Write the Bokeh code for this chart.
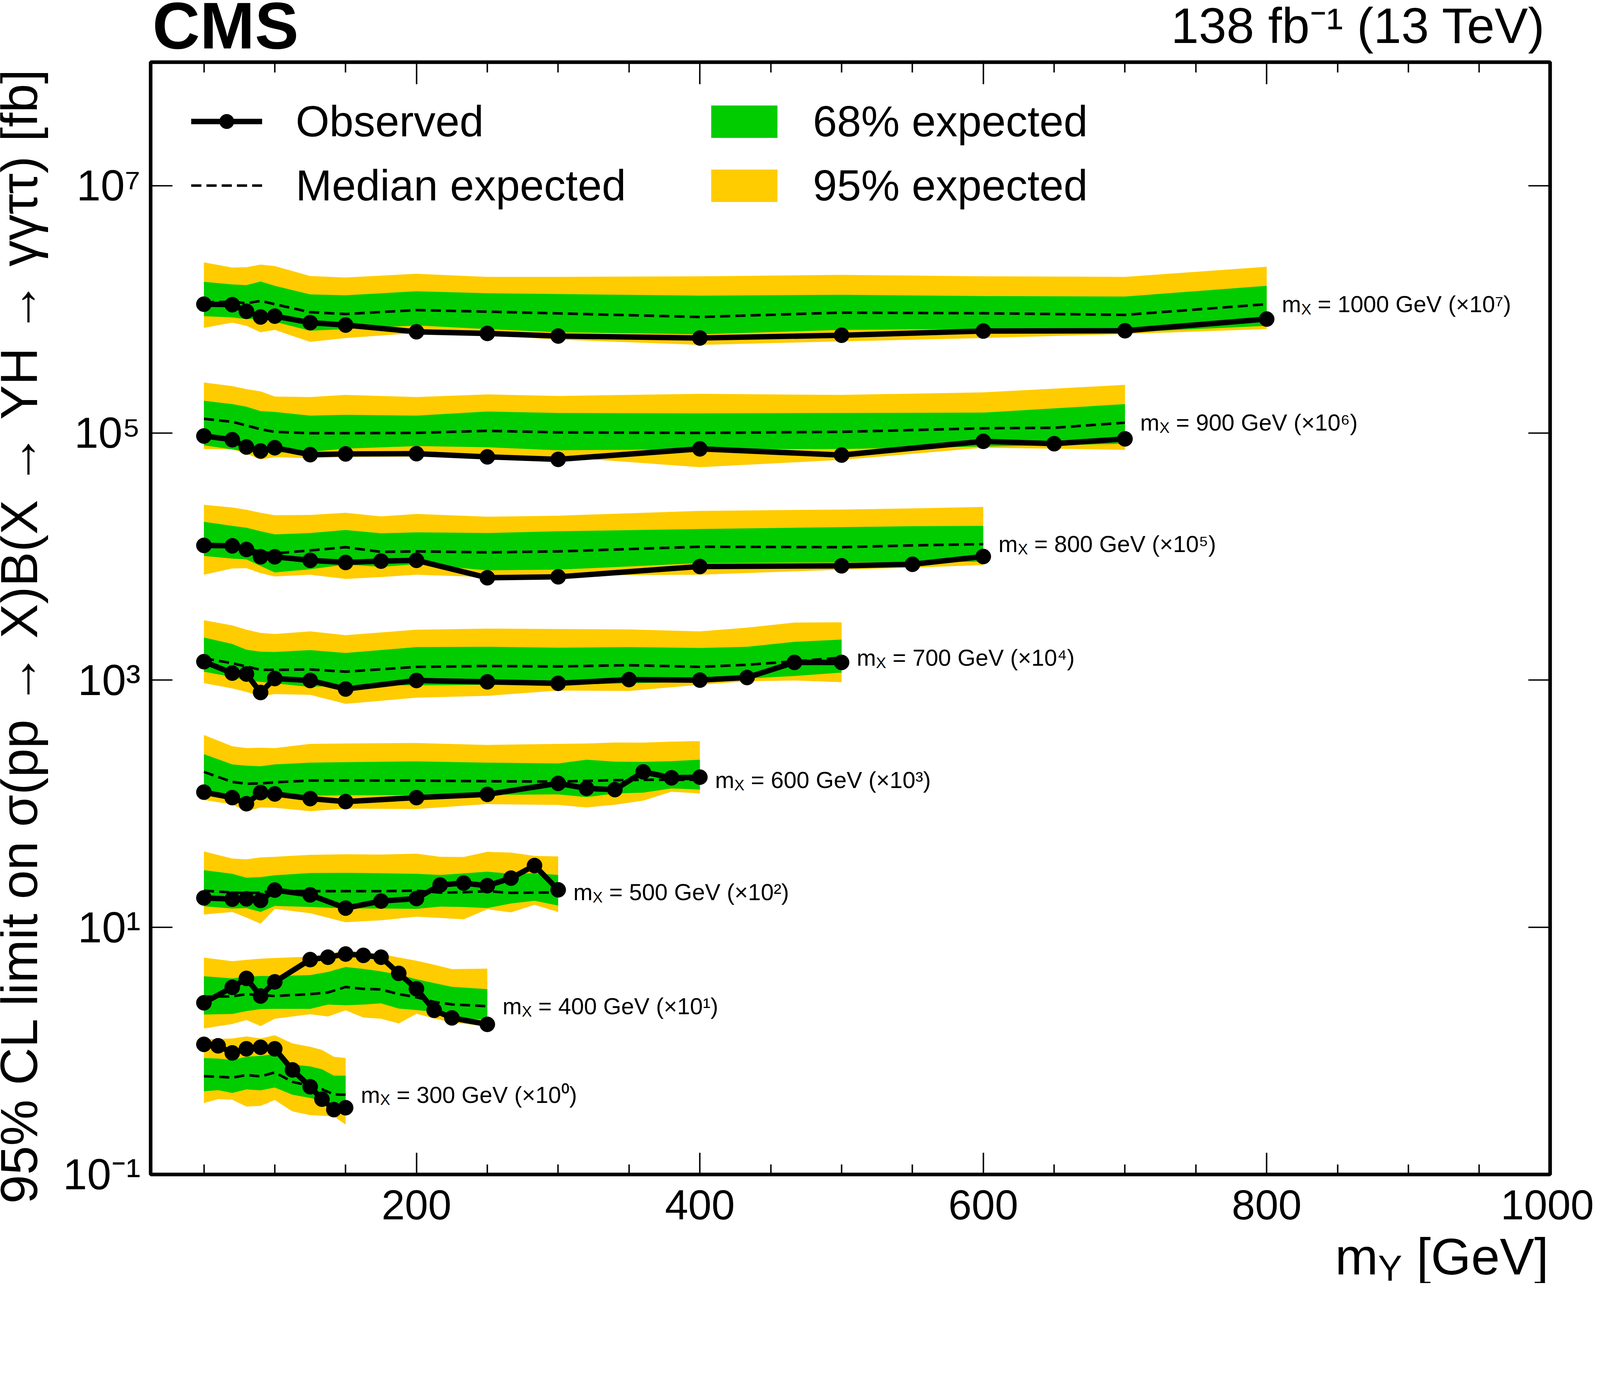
import numpy as np
from bokeh.plotting import figure
from bokeh.models import (BoxAnnotation, ColumnDataSource, FixedTicker, Label,
                          Legend, LegendItem, LinearAxis, LogAxis, Range1d)
from bokeh.core.properties import value
from bokeh.embed import file_html
from bokeh.resources import INLINE

# 95% CL limits in fb (before the x10^k display scaling)
mx_list = [300, 400, 500, 600, 700, 800, 900, 1000]
scale_exp = [0, 1, 2, 3, 4, 5, 6, 7]

my_300 = [50, 60, 70, 80, 90, 100, 112.5, 125, 133.3, 141.7, 150]
obs_300 = [1.13, 1.10, 0.964, 1.04, 1.07, 1.04, 0.702, 0.513, 0.407, 0.335, 0.347]
exp_300 = [0.625, 0.619, 0.608, 0.638, 0.622, 0.670, 0.562, 0.521, 0.490, 0.445, 0.442]
lo68_300 = [0.471, 0.482, 0.457, 0.489, 0.480, 0.506, 0.442, 0.416, 0.396, 0.373, 0.364]
hi68_300 = [0.877, 0.867, 0.845, 0.897, 0.912, 0.942, 0.776, 0.750, 0.711, 0.631, 0.632]
lo95_300 = [0.379, 0.407, 0.403, 0.355, 0.359, 0.401, 0.324, 0.302, 0.299, 0.295, 0.254]
hi95_300 = [1.24, 1.25, 1.26, 1.31, 1.26, 1.34, 1.15, 1.08, 1.02, 0.897, 0.877]

my_400 = [50, 70, 80, 90, 100, 125, 137.5, 150, 162.5, 175, 187.5, 200, 212.5, 225, 250]
obs_400 = [0.245, 0.327, 0.386, 0.278, 0.362, 0.548, 0.573, 0.608, 0.593, 0.573, 0.424, 0.318, 0.213, 0.185, 0.164]
exp_400 = [0.275, 0.276, 0.288, 0.283, 0.278, 0.288, 0.297, 0.329, 0.318, 0.314, 0.288, 0.272, 0.249, 0.238, 0.230]
lo68_400 = [0.197, 0.199, 0.210, 0.218, 0.219, 0.219, 0.237, 0.234, 0.237, 0.243, 0.220, 0.214, 0.207, 0.187, 0.178]
hi68_400 = [0.402, 0.386, 0.398, 0.404, 0.403, 0.411, 0.435, 0.478, 0.461, 0.440, 0.414, 0.380, 0.354, 0.330, 0.316]
lo95_400 = [0.152, 0.165, 0.178, 0.159, 0.182, 0.198, 0.190, 0.213, 0.186, 0.182, 0.167, 0.200, 0.183, 0.170, 0.158]
hi95_400 = [0.569, 0.532, 0.546, 0.558, 0.565, 0.579, 0.610, 0.646, 0.631, 0.608, 0.570, 0.537, 0.498, 0.459, 0.463]

my_500 = [50, 70, 80, 90, 100, 125, 150, 175, 200, 216.7, 233.3, 250, 266.7, 283.3, 300]
obs_500 = [0.173, 0.169, 0.170, 0.165, 0.200, 0.183, 0.143, 0.163, 0.171, 0.220, 0.228, 0.217, 0.250, 0.316, 0.201]
exp_500 = [0.198, 0.191, 0.189, 0.191, 0.198, 0.196, 0.196, 0.196, 0.198, 0.191, 0.192, 0.196, 0.190, 0.191, 0.192]
lo68_500 = [0.148, 0.142, 0.143, 0.133, 0.149, 0.146, 0.142, 0.142, 0.141, 0.147, 0.146, 0.143, 0.156, 0.164, 0.150]
hi68_500 = [0.290, 0.271, 0.252, 0.255, 0.264, 0.275, 0.276, 0.274, 0.271, 0.265, 0.273, 0.282, 0.271, 0.274, 0.265]
lo95_500 = [0.127, 0.133, 0.120, 0.107, 0.141, 0.130, 0.110, 0.114, 0.122, 0.119, 0.116, 0.140, 0.132, 0.152, 0.133]
hi95_500 = [0.411, 0.360, 0.355, 0.368, 0.372, 0.386, 0.390, 0.388, 0.394, 0.372, 0.371, 0.408, 0.402, 0.378, 0.375]

my_600 = [50, 70, 80, 90, 100, 125, 150, 200, 250, 300, 320, 340, 360, 380, 400]
obs_600 = [0.124, 0.112, 0.100, 0.123, 0.120, 0.110, 0.104, 0.112, 0.119, 0.146, 0.133, 0.130, 0.181, 0.162, 0.164]
exp_600 = [0.181, 0.150, 0.145, 0.146, 0.149, 0.154, 0.154, 0.154, 0.152, 0.151, 0.153, 0.155, 0.156, 0.156, 0.156]
lo68_600 = [0.117, 0.107, 0.107, 0.108, 0.113, 0.116, 0.117, 0.117, 0.118, 0.119, 0.113, 0.121, 0.123, 0.133, 0.130]
hi68_600 = [0.252, 0.208, 0.203, 0.201, 0.208, 0.215, 0.217, 0.220, 0.215, 0.212, 0.227, 0.219, 0.218, 0.221, 0.227]
lo95_600 = [0.107, 0.0989, 0.0865, 0.0933, 0.0927, 0.0871, 0.0912, 0.0906, 0.0993, 0.0977, 0.0933, 0.0982, 0.106, 0.125, 0.121]
hi95_600 = [0.360, 0.292, 0.282, 0.284, 0.282, 0.305, 0.307, 0.310, 0.299, 0.305, 0.307, 0.313, 0.312, 0.318, 0.321]

my_700 = [50, 70, 80, 90, 100, 125, 150, 200, 250, 300, 350, 400, 433.3, 466.7, 500]
obs_700 = [0.141, 0.114, 0.112, 0.0794, 0.103, 0.0993, 0.0847, 0.0993, 0.0968, 0.0942, 0.101, 0.100, 0.105, 0.139, 0.139]
exp_700 = [0.150, 0.137, 0.129, 0.121, 0.121, 0.122, 0.117, 0.128, 0.130, 0.129, 0.132, 0.128, 0.133, 0.142, 0.152]
lo68_700 = [0.117, 0.106, 0.0993, 0.0968, 0.0942, 0.0881, 0.0912, 0.0906, 0.0916, 0.0916, 0.0942, 0.0968, 0.103, 0.108, 0.115]
hi68_700 = [0.221, 0.196, 0.176, 0.170, 0.169, 0.175, 0.166, 0.185, 0.186, 0.183, 0.185, 0.182, 0.186, 0.204, 0.213]
lo95_700 = [0.0946, 0.0857, 0.0802, 0.0741, 0.0771, 0.0760, 0.0643, 0.0721, 0.0746, 0.0824, 0.0818, 0.0916, 0.0979, 0.0993, 0.0962]
hi95_700 = [0.305, 0.277, 0.256, 0.241, 0.236, 0.248, 0.231, 0.256, 0.261, 0.259, 0.257, 0.248, 0.266, 0.292, 0.294]

my_800 = [50, 70, 80, 90, 100, 125, 150, 175, 200, 250, 300, 400, 500, 550, 600]
obs_800 = [0.123, 0.122, 0.114, 0.0995, 0.0995, 0.0931, 0.0895, 0.0918, 0.0931, 0.0673, 0.0685, 0.0830, 0.0841, 0.0865, 0.100]
exp_800 = [0.126, 0.125, 0.117, 0.109, 0.106, 0.112, 0.119, 0.109, 0.110, 0.108, 0.110, 0.120, 0.119, 0.123, 0.126]
lo68_800 = [0.101, 0.0962, 0.0948, 0.0838, 0.0743, 0.0789, 0.0861, 0.0826, 0.0865, 0.0773, 0.0783, 0.0883, 0.0895, 0.0902, 0.0908]
hi68_800 = [0.191, 0.177, 0.171, 0.160, 0.151, 0.155, 0.164, 0.154, 0.157, 0.155, 0.160, 0.167, 0.173, 0.176, 0.177]
lo95_800 = [0.0713, 0.0800, 0.0805, 0.0733, 0.0689, 0.0713, 0.0659, 0.0682, 0.0713, 0.0681, 0.0700, 0.0713, 0.0783, 0.0813, 0.0853]
hi95_800 = [0.262, 0.249, 0.239, 0.226, 0.216, 0.217, 0.226, 0.211, 0.221, 0.210, 0.214, 0.234, 0.240, 0.245, 0.252]

my_900 = [50, 70, 80, 90, 100, 125, 150, 200, 250, 300, 400, 500, 600, 650, 700]
obs_900 = [0.0944, 0.0881, 0.0769, 0.0714, 0.0759, 0.0667, 0.0676, 0.0679, 0.0640, 0.0611, 0.0743, 0.0662, 0.0855, 0.0818, 0.0895]
exp_900 = [0.130, 0.123, 0.115, 0.107, 0.102, 0.0995, 0.0995, 0.100, 0.104, 0.101, 0.100, 0.102, 0.109, 0.110, 0.121]
lo68_900 = [0.0794, 0.0736, 0.0708, 0.0684, 0.0692, 0.0703, 0.0746, 0.0782, 0.0766, 0.0724, 0.0736, 0.0741, 0.0776, 0.0794, 0.0818]
hi68_900 = [0.182, 0.171, 0.163, 0.150, 0.148, 0.138, 0.140, 0.138, 0.149, 0.145, 0.144, 0.145, 0.146, 0.158, 0.171]
lo95_900 = [0.0741, 0.0736, 0.0679, 0.0610, 0.0637, 0.0624, 0.0640, 0.0643, 0.0640, 0.0640, 0.0528, 0.0605, 0.0759, 0.0745, 0.0729]
hi95_900 = [0.256, 0.239, 0.226, 0.217, 0.197, 0.195, 0.203, 0.195, 0.205, 0.199, 0.207, 0.203, 0.213, 0.228, 0.245]

my_1000 = [50, 70, 80, 90, 100, 125, 150, 200, 250, 300, 400, 500, 600, 700, 800]
obs_1000 = [0.110, 0.109, 0.0964, 0.0867, 0.0881, 0.0780, 0.0746, 0.0658, 0.0638, 0.0608, 0.0586, 0.0617, 0.0667, 0.0671, 0.0834]
exp_1000 = [0.114, 0.115, 0.112, 0.117, 0.110, 0.0948, 0.0916, 0.0986, 0.0957, 0.0927, 0.0867, 0.0940, 0.0929, 0.0902, 0.110]
lo68_1000 = [0.0881, 0.0859, 0.0834, 0.0841, 0.0793, 0.0671, 0.0692, 0.0740, 0.0692, 0.0652, 0.0628, 0.0682, 0.0692, 0.0652, 0.0735]
hi68_1000 = [0.167, 0.159, 0.157, 0.168, 0.155, 0.132, 0.130, 0.140, 0.135, 0.133, 0.129, 0.131, 0.128, 0.127, 0.155]
lo95_1000 = [0.0708, 0.0780, 0.0735, 0.0652, 0.0682, 0.0545, 0.0586, 0.0643, 0.0617, 0.0569, 0.0516, 0.0550, 0.0586, 0.0631, 0.0692]
hi95_1000 = [0.240, 0.218, 0.219, 0.230, 0.224, 0.186, 0.181, 0.194, 0.183, 0.183, 0.185, 0.190, 0.185, 0.183, 0.221]

x_major = [200, 400, 600, 800, 1000]
x_minor = [50, 100, 150, 250, 300, 350, 450, 500, 550, 650, 700, 750, 850, 900, 950]
y_major = [1e-1, 1e1, 1e3, 1e5, 1e7]
y_labels = ["10⁻¹", "10¹", "10³", "10⁵", "10⁷"]

curves = {
    300: (my_300, obs_300, exp_300, lo68_300, hi68_300, lo95_300, hi95_300),
    400: (my_400, obs_400, exp_400, lo68_400, hi68_400, lo95_400, hi95_400),
    500: (my_500, obs_500, exp_500, lo68_500, hi68_500, lo95_500, hi95_500),
    600: (my_600, obs_600, exp_600, lo68_600, hi68_600, lo95_600, hi95_600),
    700: (my_700, obs_700, exp_700, lo68_700, hi68_700, lo95_700, hi95_700),
    800: (my_800, obs_800, exp_800, lo68_800, hi68_800, lo95_800, hi95_800),
    900: (my_900, obs_900, exp_900, lo68_900, hi68_900, lo95_900, hi95_900),
    1000: (my_1000, obs_1000, exp_1000, lo68_1000, hi68_1000, lo95_1000, hi95_1000),
}

FONT = "Liberation Sans"
GREEN = "#00cc00"
YELLOW = "#ffcc00"
SUP = str.maketrans("0123456789", "⁰¹²³⁴⁵⁶⁷⁸⁹")

# the page is laid out in CSS px on a 4096 px wide viewport that gets
# photographed at 4428 px, so every size measured on the reference is scaled by S
S = 4096 / 4428
W, H = 4080, 3284


def fs(v):
    return f"{v * S:.1f}px"


# Helvetica advance widths (em), to butt the sub-script pieces together
ADV = {"m": 0.833, "X": 0.667, "Y": 0.667, " ": 0.278, "[": 0.278, "]": 0.278,
       "G": 0.778, "e": 0.556, "V": 0.667}


def tw(s, size):
    return sum(ADV[c] for c in s) * size


# axis limits, and where the axis box sits on the reference (px)
X0, X1 = 12.4, 1000
Y0, Y1 = 1e-1, 1e8
BOX_L, BOX_R, BOX_T, BOX_B = 425, 4298, 180, 3258


def xpx(px):
    return X0 + (px - BOX_L) * (X1 - X0) / (BOX_R - BOX_L)


def ypx(py):
    lo, hi = np.log10(Y0), np.log10(Y1)
    return 10 ** (hi - (py - BOX_T) * (hi - lo) / (BOX_B - BOX_T))


# the frame covers the whole canvas; the axes sit at fixed locations on the box
p = figure(width=W, height=H,
           x_range=Range1d(xpx(8 / S), xpx((8 + W) / S)),
           y_range=Range1d(ypx((8 + H) / S), ypx(8 / S)), y_axis_type="log",
           output_backend="svg", toolbar_location=None,
           min_border_left=0, min_border_right=0, min_border_top=0, min_border_bottom=0)
p.grid.visible = False
p.outline_line_color = None

xt = FixedTicker(ticks=x_major, minor_ticks=x_minor)
yt = FixedTicker(ticks=y_major, minor_ticks=[])
bottom_ax = p.xaxis[0]
left_ax = p.yaxis[0]
bottom_ax.ticker = xt
left_ax.ticker = yt
bottom_ax.fixed_location = Y0
left_ax.fixed_location = X0
left_ax.major_label_overrides = dict(zip(y_major, y_labels))

top_ax = LinearAxis(ticker=xt, fixed_location=Y1,
                    major_label_overrides={v: "" for v in x_major})
right_ax = LogAxis(ticker=yt, fixed_location=X1,
                   major_label_overrides={v: "" for v in y_major})
p.add_layout(top_ax, "above")
p.add_layout(right_ax, "right")

for ax in [bottom_ax, left_ax, top_ax, right_ax]:
    ax.axis_line_color = None
    ax.major_tick_in = round(60 * S)
    ax.major_tick_out = 0
    ax.minor_tick_in = round(28 * S)
    ax.minor_tick_out = 0
    ax.major_tick_line_width = 4 * S
    ax.minor_tick_line_width = 4 * S
    ax.major_tick_line_color = "black"
    ax.minor_tick_line_color = "black"
    ax.major_label_text_font = FONT
    ax.major_label_text_font_size = fs(120)
    ax.major_label_text_color = "black"
top_ax.major_label_text_color = None
right_ax.major_label_text_color = None
bottom_ax.major_label_text_font_size = fs(116)
bottom_ax.major_label_standoff = round(44 * S)
left_ax.major_label_standoff = round(28 * S)

p.add_layout(BoxAnnotation(left=X0, right=X1, bottom=Y0, top=Y1,
                           fill_color=None, fill_alpha=0,
                           line_color="black", line_alpha=1, line_width=10 * S))

obs_r, dot_r, exp_r, g_r, y_r = {}, {}, {}, {}, {}
srcs = {}
for mx, k in zip(mx_list, scale_exp):
    my, obs, med, lo1, hi1, lo2, hi2 = curves[mx]
    f = 10.0 ** k
    srcs[mx] = ColumnDataSource(dict(
        my=my, obs=np.array(obs) * f, med=np.array(med) * f,
        lo1=np.array(lo1) * f, hi1=np.array(hi1) * f,
        lo2=np.array(lo2) * f, hi2=np.array(hi2) * f))
    y_r[mx] = p.varea(x="my", y1="lo2", y2="hi2", source=srcs[mx], fill_color=YELLOW)
    g_r[mx] = p.varea(x="my", y1="lo1", y2="hi1", source=srcs[mx], fill_color=GREEN)

for mx in mx_list:
    exp_r[mx] = p.line("my", "med", source=srcs[mx], line_color="black",
                       line_width=7 * S, line_dash="26 13")
    obs_r[mx] = p.line("my", "obs", source=srcs[mx], line_color="black",
                       line_width=15 * S)
    dot_r[mx] = p.scatter("my", "obs", source=srcs[mx], size=42 * S, color="black")

# m_X labels next to the last point of each curve
LS, LSUB = 64, 42
lab = ColumnDataSource(dict(
    x=[curves[m][0][-1] for m in mx_list],
    y=[curves[m][2][-1] * 10.0 ** k for m, k in zip(mx_list, scale_exp)],
    rest=[f"= {m} GeV (×10{str(k).translate(SUP)})" for m, k in zip(mx_list, scale_exp)],
))
lab_kw = dict(x="x", y="y", source=lab, text_font=value(FONT),
              text_baseline="middle", text_align="left", text_color="black")
p.text(text=value("m"), x_offset=42 * S, text_font_size=value(fs(LS)), **lab_kw)
p.text(text=value("X"), x_offset=(42 + tw("m", LS)) * S, y_offset=14 * S,
       text_font_size=value(fs(LSUB)), **lab_kw)
p.text(text="rest", x_offset=(42 + tw("m", LS) + tw("X", LSUB) + tw(" ", LS)) * S,
       text_font_size=value(fs(LS)), **lab_kw)

# legend in two columns; location is measured from the canvas bottom-left.
# Area swatches are inset by 10% of the glyph box, hence the larger box on the right.
leg_kw = dict(label_height=round(150 * S), spacing=round(27 * S), padding=0, margin=0,
              border_line_color=None, background_fill_alpha=0,
              label_text_font=FONT, label_text_font_size=fs(120),
              label_text_color="black")
leg_y = round(8 + H - 597 * S)
leg_a = Legend(items=[
    LegendItem(label=value("Observed"), renderers=[obs_r[1000], dot_r[1000]]),
    LegendItem(label=value("Median expected"), renderers=[exp_r[1000]]),
], location=(round(537 * S - 8), leg_y), glyph_width=round(197 * S),
    glyph_height=round(100 * S), label_standoff=round(93 * S), **leg_kw)
leg_b = Legend(items=[
    LegendItem(label=value("68% expected"), renderers=[g_r[1000]]),
    LegendItem(label=value("95% expected"), renderers=[y_r[1000]]),
], location=(round(1954 * S - 8), leg_y), glyph_width=round(229 * S),
    glyph_height=round(112 * S), label_standoff=round(76 * S), **leg_kw)
p.add_layout(leg_a)
p.add_layout(leg_b)

# texts around the box (anchored on the middle of the em box, 0.35 em above baseline)
MID = 0.3465
txt = dict(text_font=FONT, text_color="black", text_baseline="middle")
p.add_layout(Label(x=xpx(430), y=ypx(142 - MID * 182), text="CMS",
                   text_font_style="bold", text_font_size=fs(182), **txt))
p.add_layout(Label(x=xpx(4285), y=ypx(127 - MID * 138), text="138 fb⁻¹ (13 TeV)",
                   text_font_size=fs(138), text_align="right", **txt))

xl, xs = 143, 100
xl_right = 4294
p.add_layout(Label(x=xpx(xl_right), y=ypx(3534 - MID * xl), text="[GeV]",
                   text_font_size=fs(xl), text_align="right", **txt))
p.add_layout(Label(x=xpx(xl_right - tw(" [GeV]", xl)), y=ypx(3552 - MID * xs), text="Y",
                   text_font_size=fs(xs), text_align="right", **txt))
p.add_layout(Label(x=xpx(xl_right - tw(" [GeV]", xl) - tw("Y", xs)),
                   y=ypx(3534 - MID * xl), text="m", text_font_size=fs(xl),
                   text_align="right", **txt))

p.add_layout(Label(x=xpx(60), y=ypx(192), angle=np.pi / 2,
                   text="95% CL limit on σ(pp → X)B(X → YH → γγττ) [fb]",
                   text_font_size=fs(144), text_align="right", **txt))

open("out.html", "w").write(file_html(p, INLINE))
